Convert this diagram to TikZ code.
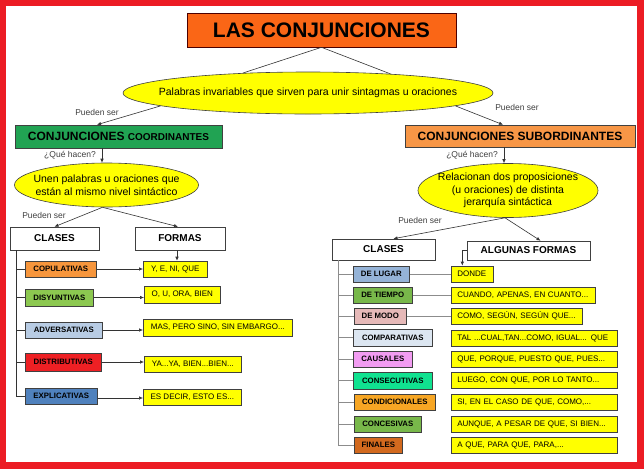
\documentclass[tikz,border=0pt]{standalone}
\usepackage{fontspec}
\setmainfont{Liberation Sans}
\usetikzlibrary{shapes.geometric,arrows.meta,calc}
\definecolor{borderred}{RGB}{236,28,36}
\definecolor{titleorange}{RGB}{250,102,22}
\definecolor{suborange}{RGB}{247,150,70}
\definecolor{coordgreen}{RGB}{33,163,83}
\definecolor{ybox}{RGB}{255,255,0}
\definecolor{cCop}{RGB}{247,150,60}
\definecolor{cDis}{RGB}{140,200,80}
\definecolor{cAdv}{RGB}{184,204,228}
\definecolor{cDistr}{RGB}{238,32,36}
\definecolor{cExp}{RGB}{79,129,189}
\definecolor{cLug}{RGB}{149,179,215}
\definecolor{cTie}{RGB}{120,184,74}
\definecolor{cMod}{RGB}{230,185,184}
\definecolor{cComp}{RGB}{220,230,241}
\definecolor{cCau}{RGB}{242,156,242}
\definecolor{cCons}{RGB}{16,226,144}
\definecolor{cCond}{RGB}{247,166,36}
\definecolor{cConc}{RGB}{120,184,74}
\definecolor{cFin}{RGB}{210,105,30}
\begin{document}
\begin{tikzpicture}[x=1pt,y=-1pt,
  box/.style={draw=black!75, line width=0.6pt, inner sep=0pt, align=center},
  cls/.style={box, minimum height=16pt, font=\fontsize{7.8}{8}\selectfont\bfseries, anchor=west},
  frm/.style={box, fill=ybox, minimum height=16pt, font=\fontsize{8}{9}\selectfont, anchor=west},
  frmr/.style={frm, inner xsep=6pt, align=left},
  ell/.style={ellipse, draw=black!75, fill=ybox, line width=0.6pt, inner sep=0pt},
  elltext/.style={inner sep=0pt, align=center, font=\fontsize{10.5}{12.5}\selectfont},
  conn/.style={draw=black!80, line width=0.6pt},
  gconn/.style={draw=black!45, line width=0.6pt},
  arr/.style={conn, -{Latex[length=4pt,width=3.5pt]}},
  lbl/.style={font=\fontsize{8.5}{9}\selectfont, text=black!75, inner sep=0pt},
  head/.style={box, fill=white, font=\fontsize{10}{11}\selectfont\bfseries}
]
\fill[borderred] (0,0) rectangle (644,469);
\fill[white] (6,6) rectangle (637,462);

% title and main ellipse
\node[box, fill=titleorange, draw=black!70!red, minimum width=269pt, minimum height=34pt,
      font=\fontsize{21}{21}\selectfont\bfseries] (title) at (321.5,30) {LAS CONJUNCIONES};
\node[ell, minimum width=370pt, minimum height=42pt] (mell) at (308,93) {};
\node[elltext] (mellt) at (mell.center) {Palabras invariables que sirven para unir sintagmas u oraciones};
\draw[conn] (title.south) -- (mell.163);
\draw[conn] (title.south) -- (mell.13);

% second level
\node[box, fill=coordgreen, minimum width=207pt, minimum height=23pt] (coord) at (118.5,136.5)
  {\fontsize{12}{12}\selectfont\bfseries CONJUNCIONES \fontsize{10}{10}\selectfont COORDINANTES};
\node[box, fill=suborange, minimum width=230pt, minimum height=22pt,
      font=\fontsize{12}{12}\selectfont\bfseries] (subor) at (520,136) {CONJUNCIONES SUBORDINANTES};
\draw[arr] (mell.185) -- ([xshift=-21.5pt]coord.north);
\draw[arr] (mell.355) -- ([xshift=-17pt]subor.north);
\node[lbl] (ps1) at (97,112) {Pueden ser};
\node[lbl] (ps2) at (517,107) {Pueden ser};

% ellipses of third level
\node[ell, minimum width=184pt, minimum height=44pt] (lell) at (106.5,185) {};
\node[elltext] (lellt) at (lell.center) {Unen palabras u oraciones que\\ están al mismo nivel sintáctico};
\node[ell, minimum width=180pt, minimum height=54pt] (rell) at (508,190.5) {};
\node[elltext] (rellt) at (rell.center) {Relacionan dos proposiciones\\ (u oraciones) de distinta\\ jerarquía sintáctica};
\draw[arr] ([xshift=-16.5pt]coord.south) coordinate (lq) -- (lq |- lell.north);
\draw[arr] ([xshift=-16pt]subor.south) coordinate (rq) -- (rq |- rell.north);
\node[lbl] (qh1) at (70,155) {¿Qué hacen?};
\node[lbl] (qh2) at (472,155) {¿Qué hacen?};

% headers
\node[head, minimum width=89pt, minimum height=23pt] (clL) at (54.5,238.5) {CLASES};
\node[head, minimum width=90pt, minimum height=23pt] (formas) at (180,238.5) {FORMAS};
\node[head, minimum width=103pt, minimum height=21pt] (clR) at (383.5,249.5) {CLASES};
\node[head, minimum width=123pt, minimum height=19pt] (alg) at (528.5,250.5) {ALGUNAS FORMAS};
\draw[arr] ([xshift=-4pt]lell.south) -- (clL.north);
\draw[arr] ([xshift=-4pt]lell.south) -- ([xshift=-2pt]formas.north);
\draw[arr] ([xshift=-3pt]rell.south) -- ([xshift=10pt]clR.north);
\draw[arr] ([xshift=-3pt]rell.south) -- ([xshift=12pt]alg.north);
\node[lbl] (ps3) at (44,215) {Pueden ser};
\node[lbl] (ps4) at (420,220) {Pueden ser};

% left classes
\node[cls, fill=cCop, minimum width=71pt] (cop) at (25,269) {COPULATIVAS};
\node[cls, fill=cDis, minimum width=68pt, minimum height=17pt] (dis) at (25,297.5) {DISYUNTIVAS};
\node[cls, fill=cAdv, minimum width=77pt] (adv) at (25,330) {ADVERSATIVAS};
\node[cls, fill=cDistr, minimum width=76pt, minimum height=18pt] (distr) at (25,362) {DISTRIBUTIVAS};
\node[cls, fill=cExp, minimum width=72pt] (expl) at (25,396) {EXPLICATIVAS};

% left forms
\node[frm, minimum width=64pt] (ye) at (143,269) {Y, E, NI, QUE};
\node[frm, minimum width=76pt, minimum height=17pt] (ou) at (144,294.5) {O, U, ORA, BIEN};
\node[frm, minimum width=149pt, minimum height=17pt] (mas) at (143,327.5) {MAS, PERO SINO, SIN EMBARGO...};
\node[frm, minimum width=97pt] (ya) at (144,364) {YA...YA, BIEN...BIEN...};
\node[frm, minimum width=98pt] (es) at (143,397) {ES DECIR, ESTO ES...};

% left tree
\draw[conn] ([xshift=-38.5pt]clL.south) coordinate (tl) -- (tl |- expl.west) -- (expl.west);
\foreach \n in {cop,dis,adv,distr} \draw[conn] (tl |- \n.west) -- (\n.west);
\draw[arr] ([xshift=-3pt]formas.south) coordinate (fs) -- (fs |- ye.north);
\draw[arr] (cop.east) -- (cop.east -| ye.west);
\draw[arr] (dis.east) -- (dis.east -| ou.west);
\draw[arr] (adv.east) -- (adv.east -| mas.west);
\draw[arr] (distr.east) -- (distr.east -| ya.west);
\draw[arr] ([yshift=-2pt]expl.east) -- ([yshift=-2pt]expl.east -| es.west);

% right classes
\node[cls, fill=cLug, minimum width=56pt] (lug) at (353,274) {DE LUGAR};
\node[cls, fill=cTie, minimum width=59pt] (tie) at (353,295) {DE TIEMPO};
\node[cls, fill=cMod, minimum width=52pt] (mod) at (354,316) {DE MODO};
\node[cls, fill=cComp, minimum width=79pt, minimum height=17pt] (comp) at (353,337.5) {COMPARATIVAS};
\node[cls, fill=cCau, minimum width=59pt] (cau) at (353,359) {CAUSALES};
\node[cls, fill=cCons, minimum width=79pt, minimum height=17pt] (cons) at (353,380.5) {CONSECUTIVAS};
\node[cls, fill=cCond, minimum width=81pt] (cond) at (354,402) {CONDICIONALES};
\node[cls, fill=cConc, minimum width=67pt] (conc) at (354,424) {CONCESIVAS};
\node[cls, fill=cFin, minimum width=48pt] (fin) at (354,445) {FINALES};

% right forms
\node[frmr, text width=30pt] (donde) at (451,274) {DONDE};
\node[frmr, text width=132pt] (cuando) at (451,295) {CUANDO, APENAS, EN CUANTO...};
\node[frmr, text width=119pt] (como) at (451,316) {COMO, SEGÚN, SEGÚN QUE...};
\node[frmr, text width=154pt] (tal) at (451,338) {TAL ...CUAL,TAN...COMO, IGUAL... QUE};
\node[frmr, text width=154pt] (que) at (451,359) {QUE, PORQUE, PUESTO QUE, PUES...};
\node[frmr, text width=154pt] (luego) at (451,380.5) {LUEGO, CON QUE, POR LO TANTO...};
\node[frmr, text width=154pt] (si) at (451,402) {SI, EN EL CASO DE QUE, COMO,...};
\node[frmr, text width=154pt] (aunque) at (451,424) {AUNQUE, A PESAR DE QUE, SI BIEN...};
\node[frmr, text width=154pt] (aque) at (451,445) {A QUE, PARA QUE, PARA,...};

% right tree
\draw[gconn] ([xshift=-45.5pt]clR.south) coordinate (tr) -- (tr |- fin.west) -- (fin.west);
\foreach \n in {lug,tie,mod,comp,cau,cons,cond,conc} \draw[gconn] (tr |- \n.west) -- (\n.west);
\draw[gconn] (lug.east) -- (donde.west);
\draw[gconn] (tie.east) -- (cuando.west);
\draw[gconn] (mod.east) -- (como.west);
\draw[arr] (alg.west) -| ([xshift=-10pt]donde.north);
\end{tikzpicture}
\end{document}
